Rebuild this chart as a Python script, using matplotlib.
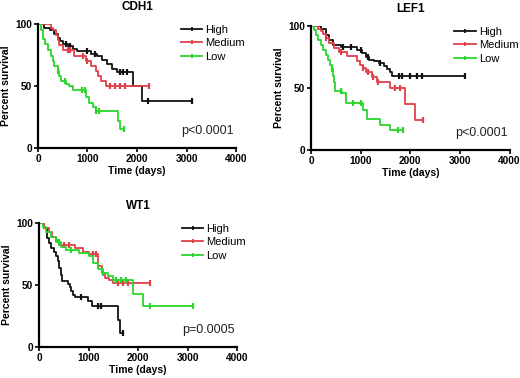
import numpy as np
import matplotlib
matplotlib.use("Agg")
import matplotlib.pyplot as plt
from matplotlib.lines import Line2D

plt.rcParams['font.family'] = ['Liberation Sans', 'DejaVu Sans']

# cores das curvas
BLACK = "#111111"
RED = "#e0404a"
GREEN = "#2ad62a"

groups = ["High", "Medium", "Low"]

# ---------------- CDH1 ----------------
cdh1_high_t = [0, 120, 250, 330, 400, 450, 500, 600, 700, 780, 1080, 1200, 1300, 1400, 1500, 1600, 1920, 2100]
cdh1_high_s = [100, 97, 95, 92, 89, 86, 84, 82, 80, 78, 76, 74, 71, 68, 64, 61, 50, 38]
cdh1_high_end = 3100
cdh1_high_cens = [560, 650, 1000, 1150, 1650, 1720, 1800, 2230, 3100]

cdh1_med_t = [0, 260, 300, 370, 400, 430, 500, 730, 980, 1080, 1170, 1220, 1270, 1370]
cdh1_med_s = [100, 97, 95, 91, 87, 83, 79, 74, 70, 66, 62, 58, 54, 50]
cdh1_med_end = 2240
cdh1_med_cens = [600, 650, 900, 1000, 1450, 1550, 1650, 1750, 2240]

cdh1_low_t = [0, 60, 110, 150, 200, 260, 300, 330, 400, 430, 470, 560, 630, 700, 970, 1040, 1110, 1170, 1610, 1650]
cdh1_low_s = [100, 95, 88, 84, 79, 74, 70, 66, 62, 58, 54, 52, 50, 47, 41, 36, 33, 30, 22, 15]
cdh1_low_end = 1740
cdh1_low_cens = [400, 540, 880, 950, 1170, 1240, 1740]

# ---------------- LEF1 ----------------
lef1_high_t = [0, 200, 300, 370, 440, 600, 930, 1030, 1100, 1170, 1270, 1370, 1470, 1530, 1600, 1640]
lef1_high_s = [100, 98, 93, 89, 85, 83, 81, 78, 75, 73, 72, 70, 68, 65, 63, 60]
lef1_high_end = 3100
lef1_high_cens = [650, 800, 1000, 1150, 1400, 1770, 1830, 2000, 2130, 2230, 3100]

lef1_med_t = [0, 150, 200, 250, 300, 370, 470, 570, 720, 930, 980, 1040, 1100, 1230, 1330, 1600, 1900, 2100]
lef1_med_s = [100, 98, 96, 94, 90, 86, 82, 79, 76, 72, 69, 66, 63, 59, 55, 50, 37, 24]
lef1_med_end = 2250
lef1_med_cens = [300, 600, 1050, 1150, 1250, 1350, 1700, 1800, 2250]

lef1_low_t = [0, 60, 100, 150, 200, 250, 300, 350, 390, 420, 440, 460, 480, 620, 700, 1050, 1120, 1400, 1600]
lef1_low_s = [100, 97, 93, 89, 85, 81, 77, 73, 69, 65, 60, 55, 48, 46, 38, 32, 25, 20, 16]
lef1_low_end = 1850
lef1_low_cens = [430, 600, 850, 1000, 1750, 1850]

# ---------------- WT1 ----------------
wt1_high_t = [0, 100, 170, 210, 240, 300, 340, 380, 410, 440, 460, 580, 620, 650, 690, 720, 980, 1060, 1600, 1640]
wt1_high_s = [100, 96, 88, 84, 80, 77, 73, 69, 64, 58, 53, 51, 48, 45, 42, 40, 37, 33, 22, 11]
wt1_high_end = 1700
wt1_high_cens = [850, 1200, 1250, 1700]

wt1_med_t = [0, 100, 200, 270, 340, 410, 720, 880, 1000, 1200, 1270, 1340, 1420, 1500]
wt1_med_s = [100, 96, 93, 89, 86, 82, 80, 77, 75, 65, 60, 56, 54, 52]
wt1_med_end = 2250
wt1_med_cens = [500, 600, 1100, 1150, 1600, 1700, 1800, 2250]

wt1_low_t = [0, 80, 150, 250, 350, 450, 550, 800, 1000, 1100, 1200, 1300, 1400, 1500, 1900, 2100]
wt1_low_s = [100, 97, 93, 89, 85, 81, 78, 76, 73, 68, 63, 60, 57, 54, 43, 33]
wt1_low_end = 3100
wt1_low_cens = [400, 650, 1300, 1550, 1650, 1750, 2250, 3100]

titles = ["CDH1", "LEF1", "WT1"]
pvalues = ["p<0.0001", "p<0.0001", "p=0.0005"]


# desenha uma curva de Kaplan-Meier em degraus com marcas de censura
def km_curve(ax, t, s, end, cens, color):
    xs = list(t) + [end]
    ys = list(s) + [s[-1]]
    ax.plot(xs, ys, drawstyle="steps-post", color=color, lw=1.3)
    idx = np.searchsorted(t, cens, side="right") - 1
    cy = np.array(s)[idx]
    ax.plot(cens, cy, ls="none", marker="|", ms=4, mew=1.6, color=color)


def style_axes(ax, title, pval):
    ax.set_xlim(0, 4000)
    ax.set_ylim(0, 100)
    ax.set_xticks([0, 1000, 2000, 3000, 4000])
    ax.set_yticks([0, 50, 100])
    for side in ("top", "right"):
        ax.spines[side].set_visible(False)
    for side in ("left", "bottom"):
        ax.spines[side].set_linewidth(1.6)
    ax.tick_params(width=1.2, length=3, labelsize=7.3, pad=1)
    for lab in ax.get_xticklabels() + ax.get_yticklabels():
        lab.set_fontweight("bold")
    ax.set_title(title, fontsize=8.5, fontweight="bold", pad=10)
    ax.set_xlabel("Time (days)", fontsize=7.5, fontweight="bold", labelpad=2)
    ax.set_ylabel("Percent survival", fontsize=7.5, fontweight="bold", labelpad=3)
    ax.text(0.99, 0.14, pval, transform=ax.transAxes, ha="right", va="center",
            fontsize=9, color="#222222")
    handles = [Line2D([0], [0], color=c, lw=1.3, marker="|", ms=3, mew=1.3)
               for c in (BLACK, RED, GREEN)]
    ax.legend(handles, groups, loc="upper left", bbox_to_anchor=(0.7, 1.03),
              frameon=False, fontsize=8, handlelength=1.9, handletextpad=0.3,
              labelspacing=0.32, borderaxespad=0, numpoints=1)


fig = plt.figure(figsize=(5.2, 3.78), dpi=100)
ax1 = fig.add_axes([0.073, 0.6085, 0.381, 0.328])
ax2 = fig.add_axes([0.598, 0.603, 0.382, 0.328])
ax3 = fig.add_axes([0.075, 0.082, 0.381, 0.328])

km_curve(ax1, cdh1_high_t, cdh1_high_s, cdh1_high_end, cdh1_high_cens, BLACK)
km_curve(ax1, cdh1_med_t, cdh1_med_s, cdh1_med_end, cdh1_med_cens, RED)
km_curve(ax1, cdh1_low_t, cdh1_low_s, cdh1_low_end, cdh1_low_cens, GREEN)

km_curve(ax2, lef1_high_t, lef1_high_s, lef1_high_end, lef1_high_cens, BLACK)
km_curve(ax2, lef1_med_t, lef1_med_s, lef1_med_end, lef1_med_cens, RED)
km_curve(ax2, lef1_low_t, lef1_low_s, lef1_low_end, lef1_low_cens, GREEN)

km_curve(ax3, wt1_high_t, wt1_high_s, wt1_high_end, wt1_high_cens, BLACK)
km_curve(ax3, wt1_med_t, wt1_med_s, wt1_med_end, wt1_med_cens, RED)
km_curve(ax3, wt1_low_t, wt1_low_s, wt1_low_end, wt1_low_cens, GREEN)

for ax, title, pval in zip((ax1, ax2, ax3), titles, pvalues):
    style_axes(ax, title, pval)

fig.savefig("out.png", dpi=100)
